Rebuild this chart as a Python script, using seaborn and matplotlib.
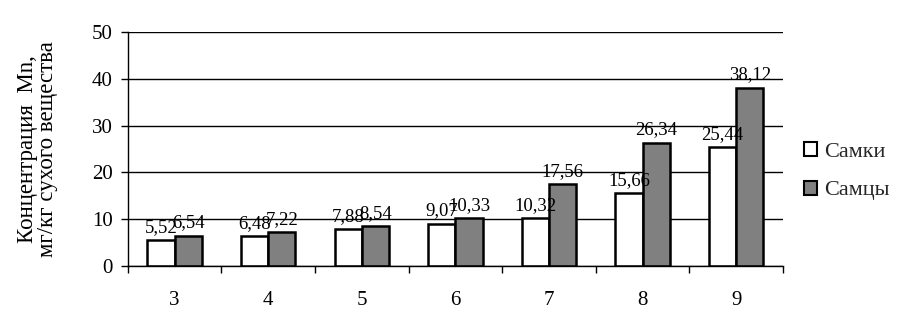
import matplotlib
matplotlib.use("Agg")
import matplotlib.pyplot as plt
import seaborn as sns
import pandas as pd
import numpy as np
from matplotlib.patches import Patch

categories = ["3", "4", "5", "6", "7", "8", "9"]
females = [5.52, 6.48, 7.88, 9.07, 10.32, 15.66, 25.44]
males = [6.54, 7.22, 8.54, 10.33, 17.56, 26.34, 38.12]
series_names = ["Самки", "Самцы"]

df = pd.DataFrame({
    "cat": categories * 2,
    "val": females + males,
    "sex": [series_names[0]] * len(categories) + [series_names[1]] * len(categories),
})

sns.set_theme(style="white")
plt.rcParams['font.family'] = ['Liberation Serif', 'DejaVu Serif']

fig = plt.figure(figsize=(9, 3.29), dpi=100)
ax = fig.add_axes([0.142, 0.191, 0.728, 0.712])

sns.barplot(data=df, x="cat", y="val", hue="sex", order=categories,
            hue_order=series_names, palette=["white", "#808080"],
            edgecolor="black", linewidth=1.8, width=0.58, ax=ax,
            legend=False, errorbar=None, saturation=1)

for cont in ax.containers:
    labels = [f"{v:.2f}".replace(".", ",") for v in cont.datavalues]
    ax.bar_label(cont, labels=labels, padding=3, fontsize=13.5, color="black")

ax.set_ylim(0, 50)
ax.set_yticks(range(0, 51, 10))
ax.set_xlim(-0.5, len(categories) - 0.5)
ax.yaxis.grid(True, color="black", linewidth=1)
ax.set_axisbelow(True)
ax.set_xlabel("")
ax.set_ylabel("Концентрация  Mn,\nмг/кг сухого вещества", fontsize=16.5,
              color="black", labelpad=24, linespacing=0.95)

ax.set_xticks(np.arange(len(categories)))
ax.set_xticklabels(categories)
ax.set_xticks(np.arange(-0.5, len(categories)), minor=True)
ax.tick_params(axis="x", which="major", length=0, labelsize=15, pad=18, colors="black")
ax.tick_params(axis="x", which="minor", length=5, width=1, direction="out", color="black", bottom=True)
ax.tick_params(axis="y", length=5, width=1, direction="out", labelsize=15, colors="black", left=True, pad=6)

for s in ["top", "right"]:
    ax.spines[s].set_visible(False)
for s in ["left", "bottom"]:
    ax.spines[s].set_color("black")
    ax.spines[s].set_linewidth(1)

handles = [Patch(facecolor="white", edgecolor="black", linewidth=1.5),
           Patch(facecolor="#808080", edgecolor="black", linewidth=1.5)]
fig.legend(handles, series_names, loc="center left", bbox_to_anchor=(0.893, 0.48),
           frameon=False, fontsize=16, handlelength=0.6, handleheight=0.6,
           handletextpad=0.3, labelspacing=0.85, borderpad=0, borderaxespad=0)

fig.savefig("out.png", dpi=100)
